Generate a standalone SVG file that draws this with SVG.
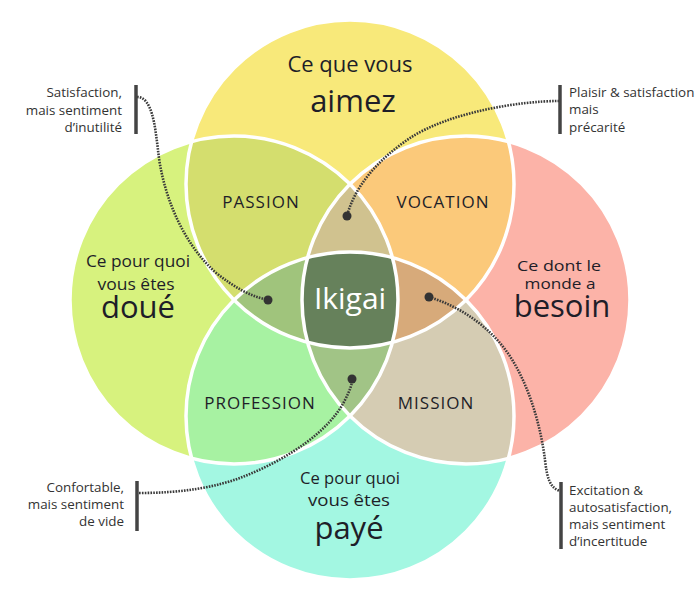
<svg xmlns="http://www.w3.org/2000/svg" width="700" height="595" viewBox="0 0 700 595">
<style>
.big{font-family:"Open Sans","Noto Sans",sans-serif;fill:#1e1e28;text-anchor:middle}
.lab{font-family:"Open Sans","Noto Sans",sans-serif;fill:#1e1e28;text-anchor:middle;font-size:17px;letter-spacing:1px}
.ann{font-family:"Open Sans","Noto Sans",sans-serif;fill:#333;font-size:13.4px}
.dot{fill:none;stroke:#3a3a3a;stroke-width:2.6;stroke-dasharray:1.6 1.2}
.bar{stroke:#444;stroke-width:3.5}
.edge{fill:none;stroke:#fff;stroke-width:3.5}
</style>
<defs>
<clipPath id="cT"><circle cx="350" cy="184" r="164"/></clipPath>
<clipPath id="cL"><circle cx="234" cy="300" r="164"/></clipPath>
<clipPath id="cR"><circle cx="466" cy="300" r="164"/></clipPath>
<clipPath id="cB"><circle cx="350" cy="416" r="164"/></clipPath>
</defs>
<rect width="700" height="595" fill="#fff"/>
<g id="circle-aimez"><circle cx="350" cy="184" r="164" fill="#F8E97A"/></g>
<g id="circle-doue"><circle cx="234" cy="300" r="164" fill="#D7F27E"/></g>
<g id="circle-besoin"><circle cx="466" cy="300" r="164" fill="#FCB3A8"/></g>
<g id="circle-paye"><circle cx="350" cy="416" r="164" fill="#A3F7E2"/></g>
<g id="passion" clip-path="url(#cT)"><circle cx="234" cy="300" r="164" fill="#D4DE6E"/></g>
<g id="vocation" clip-path="url(#cT)"><circle cx="466" cy="300" r="164" fill="#FBC97A"/></g>
<g id="profession" clip-path="url(#cB)"><circle cx="234" cy="300" r="164" fill="#A7F2A2"/></g>
<g id="mission" clip-path="url(#cB)"><circle cx="466" cy="300" r="164" fill="#D5CCB3"/></g>
<g id="lens-top" clip-path="url(#cT)"><g clip-path="url(#cL)"><circle cx="466" cy="300" r="164" fill="#D0C28F"/></g></g>
<g id="lens-left" clip-path="url(#cT)"><g clip-path="url(#cL)"><circle cx="350" cy="416" r="164" fill="#A0C47C"/></g></g>
<g id="lens-right" clip-path="url(#cT)"><g clip-path="url(#cR)"><circle cx="350" cy="416" r="164" fill="#D7AA7A"/></g></g>
<g id="lens-bottom" clip-path="url(#cL)"><g clip-path="url(#cR)"><circle cx="350" cy="416" r="164" fill="#A1C486"/></g></g>
<g id="ikigai-core" clip-path="url(#cT)"><g clip-path="url(#cL)"><g clip-path="url(#cR)"><circle cx="350" cy="416" r="164" fill="#66815B"/></g></g></g>
<g id="outlines">
<circle class="edge" cx="350" cy="184" r="164"/>
<circle class="edge" cx="234" cy="300" r="164"/>
<circle class="edge" cx="466" cy="300" r="164"/>
<circle class="edge" cx="350" cy="416" r="164"/>
</g>
<g id="texts">
<text class="big" font-size="22"><tspan x="350" y="72">Ce que vous</tspan><tspan x="353" y="112" font-size="31">aimez</tspan></text>
<text class="big" font-size="16"><tspan x="138" y="267" textLength="104" lengthAdjust="spacingAndGlyphs">Ce pour quoi</tspan><tspan x="136" y="290" textLength="77" lengthAdjust="spacingAndGlyphs">vous êtes</tspan><tspan x="138" y="318" font-size="31">doué</tspan></text>
<text class="big" font-size="15"><tspan x="559" y="271" textLength="84" lengthAdjust="spacingAndGlyphs">Ce dont le</tspan><tspan x="560" y="289" textLength="71" lengthAdjust="spacingAndGlyphs">monde a</tspan><tspan x="562" y="317" font-size="31">besoin</tspan></text>
<text class="big" font-size="16"><tspan x="350" y="484" textLength="100" lengthAdjust="spacingAndGlyphs">Ce pour quoi</tspan><tspan x="349" y="506" textLength="82" lengthAdjust="spacingAndGlyphs">vous êtes</tspan><tspan x="349" y="539" font-size="31">payé</tspan></text>
<text class="lab" x="261" y="208">PASSION</text>
<text class="lab" x="443" y="208">VOCATION</text>
<text class="lab" x="260" y="409">PROFESSION</text>
<text class="lab" x="436" y="409">MISSION</text>
<text x="350" y="309" font-family="Open Sans, Noto Sans, sans-serif" font-size="30" fill="#fff" text-anchor="middle">Ikigai</text>
</g>
<g id="connectors">
<path class="dot" d="M137,97 C152,97 155,125 158,150 C162,190 180,240 215,272 C235,288 250,296 268,300"/>
<path class="dot" d="M559,101 C520,101 450,112 410,138 C380,158 355,185 347,216"/>
<path class="dot" d="M139,493 C180,493 215,488 245,476 C290,458 330,430 345,400 C350,390 352,385 352,379"/>
<path class="dot" d="M429,297 C455,305 480,320 500,343 C525,372 540,420 545,460 C547,478 550,488 560,491"/>
<circle cx="268" cy="300" r="4.5" fill="#333"/>
<circle cx="347" cy="216" r="4.5" fill="#333"/>
<circle cx="352" cy="379" r="4.5" fill="#333"/>
<circle cx="429" cy="297" r="4.5" fill="#333"/>
</g>
<g id="note-inutilite">
<line class="bar" x1="136" y1="85" x2="136" y2="134"/>
<text class="ann" text-anchor="end"><tspan x="122" y="97">Satisfaction,</tspan><tspan x="122" y="115">mais sentiment</tspan><tspan x="122" y="132">d’inutilité</tspan></text>
</g>
<g id="note-precarite">
<line class="bar" x1="560" y1="85" x2="560" y2="134"/>
<text class="ann"><tspan x="569" y="97">Plaisir &amp; satisfaction</tspan><tspan x="569" y="114">mais</tspan><tspan x="569" y="132">précarité</tspan></text>
</g>
<g id="note-vide">
<line class="bar" x1="137" y1="481" x2="137" y2="531"/>
<text class="ann" text-anchor="end"><tspan x="124" y="492">Confortable,</tspan><tspan x="124" y="509">mais sentiment</tspan><tspan x="124" y="526">de vide</tspan></text>
</g>
<g id="note-incertitude">
<line class="bar" x1="561" y1="482" x2="561" y2="549"/>
<text class="ann"><tspan x="569" y="495">Excitation &amp;</tspan><tspan x="569" y="512">autosatisfaction,</tspan><tspan x="569" y="529">mais sentiment</tspan><tspan x="569" y="546">d’incertitude</tspan></text>
</g>
</svg>
